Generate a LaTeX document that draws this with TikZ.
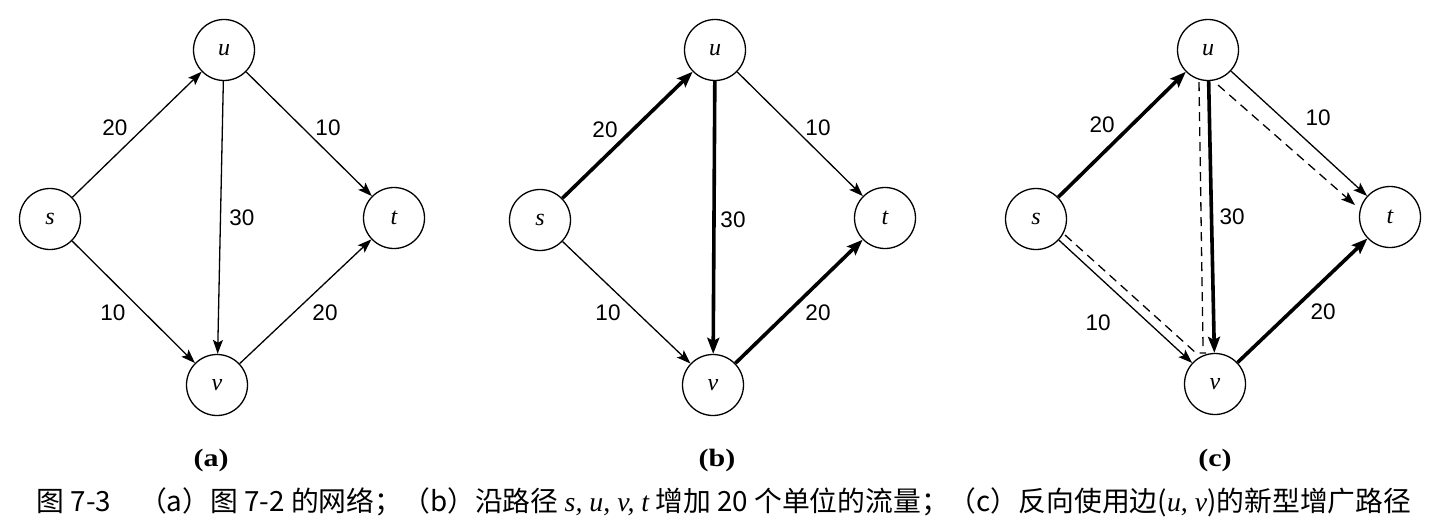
\documentclass[tikz,border=0pt]{standalone}
\usepackage{fontspec}
\setmainfont{Liberation Serif}
\newfontfamily\numfont{Liberation Sans}
\newfontfamily\cjk{Noto Sans CJK SC}
\usetikzlibrary{arrows.meta}
\begin{document}
\begin{tikzpicture}[x=1pt,y=-1pt,
  vert/.style={circle,draw,line width=1.3pt,minimum size=61pt,inner sep=0pt,font=\fontsize{24}{24}\selectfont\itshape},
  thinarrow/.style={line width=1.3pt,-{Stealth[length=14pt,width=10pt,inset=3pt]}},
  thickarrow/.style={line width=3.6pt,-{Stealth[length=16pt,width=12pt,inset=3pt]}},
  dashedge/.style={line width=1.3pt,dash pattern=on 9pt off 6pt},
  lbl/.style={font=\numfont\fontsize{22.5}{22.5}\selectfont,inner sep=0pt},
  sub/.style={font=\fontsize{25}{25}\selectfont\bfseries,inner sep=0pt,xscale=1.2}]
\useasboundingbox (0,0) rectangle (1440,530);
% ---------- (a)
\node[vert] (as) at (50,219) {s};
\node[vert] (au) at (224,50) {u};
\node[vert] (at) at (394,218) {t};
\node[vert] (av) at (217,385) {v};
\draw[thinarrow] (as) -- (au);
\draw[thinarrow] (au) -- (at);
\draw[thinarrow] (au) -- (av);
\draw[thinarrow] (as) -- (av);
\draw[thinarrow] (av) -- (at);
\node[lbl] (a1) at (115,128) {20};
\node[lbl] (a2) at (328,128) {10};
\node[lbl] (a3) at (242,218) {30};
\node[lbl] (a4) at (113,313) {10};
\node[lbl] (a5) at (325,313) {20};
\node[sub] (la) at (211,460) {(a)};
% ---------- (b)
\node[vert] (bs) at (540,220) {s};
\node[vert] (bu) at (715,50) {u};
\node[vert] (bt) at (885,218) {t};
\node[vert] (bv) at (713,385) {v};
\draw[thickarrow] (bs) -- (bu);
\draw[thinarrow] (bu) -- (bt);
\draw[thickarrow] (bu) -- (bv);
\draw[thinarrow] (bs) -- (bv);
\draw[thickarrow] (bv) -- (bt);
\node[lbl] (b1) at (605,130) {20};
\node[lbl] (b2) at (818,128) {10};
\node[lbl] (b3) at (733,220) {30};
\node[lbl] (b4) at (608,313) {10};
\node[lbl] (b5) at (818,313) {20};
\node[sub] (lb) at (717,460) {(b)};
% ---------- (c)
\node[vert] (cs) at (1036,219) {s};
\node[vert] (cu) at (1208,50) {u};
\node[vert] (ct) at (1390,217) {t};
\node[vert] (cv) at (1215,384) {v};
\draw[thickarrow] (cs) -- (cu);
\draw[thinarrow] (cu) -- (ct);
\draw[thickarrow] (cu) -- (cv);
\draw[thinarrow] (cs) -- (cv);
\draw[thickarrow] (cv) -- (ct);
\coordinate (d1) at (1065,235);
\coordinate (d2) at (1196,353);
\coordinate (d3) at (1206,353);
\coordinate (d4) at (1203,346);
\coordinate (d5) at (1199,82);
\coordinate (d6) at (1218,85);
\coordinate (d7) at (1355,205);
\draw[dashedge] (d1) -- (d2) -- (d3);
\draw[dashedge] (d4) -- (d5);
\draw[dashedge,-{Stealth[length=14pt,width=10pt,inset=3pt]}] (d6) -- (d7);
\node[lbl] (c1) at (1102,125) {20};
\node[lbl] (c2) at (1318,118) {10};
\node[lbl] (c3) at (1232,217) {30};
\node[lbl] (c4) at (1098,323) {10};
\node[lbl] (c5) at (1323,312) {20};
\node[sub] (lc) at (1215,460) {(c)};
% ---------- caption
\node[inner sep=0pt,font=\cjk\fontsize{27.8}{27.8}\selectfont] (cap) at (724,502)
  {图 7-3\quad （a）图 7-2 的网络；（b）沿路径 {\rmfamily\itshape s, u, v, t} 增加 20 个单位的流量；（c）反向使用边({\rmfamily\itshape u, v})的新型增广路径};
\end{tikzpicture}
\end{document}
